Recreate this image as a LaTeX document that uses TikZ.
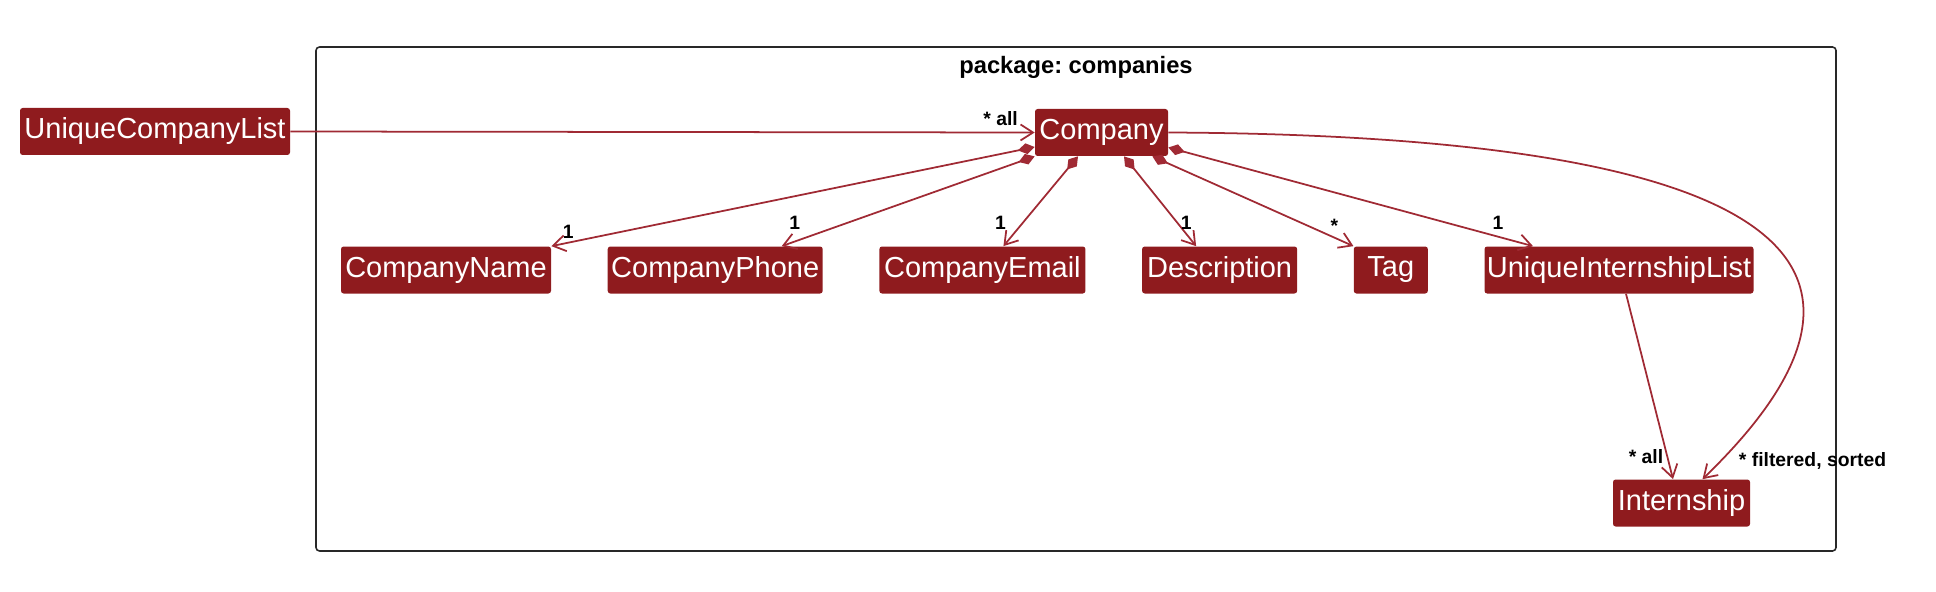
\documentclass[tikz,border=0pt]{standalone}
\usepackage{xcolor}
\usepackage{fontspec}
\setmainfont{Liberation Sans}
\usepackage{tikz}
\usetikzlibrary{arrows.meta, positioning}
\definecolor{clsred}{RGB}{143,27,30}
\definecolor{linkred}{RGB}{160,42,52}
\definecolor{framegray}{RGB}{40,40,40}
\frenchspacing
\tikzset{
  cls/.style={rectangle, fill=clsred, text=white, inner xsep=0pt,
    minimum height=0.94cm, rounded corners=1.5pt,
    font=\fontsize{16.5}{18}\selectfont},
  assoc/.style={-{Straight Barb[length=0.25cm, width=0.32cm]}, line width=1pt, color=linkred},
  compo/.style={{Diamond[length=0.34cm, width=0.22cm]}-{Straight Barb[length=0.25cm, width=0.32cm]},
    line width=1pt, color=linkred},
  lbl/.style={inner sep=0pt, text=black, font=\fontsize{11}{12}\selectfont\bfseries},
  pkgframe/.style={draw=framegray, line width=0.9pt, rounded corners=2pt}
}

\begin{document}
\begin{tikzpicture}[node distance=1.12cm]
  \useasboundingbox (0,0) rectangle (38.72,-11.84);
  % Package frame
  \draw[pkgframe] (6.32,-0.94) rectangle (36.72,-11.02);
  \node[font=\fontsize{13.5}{15}\selectfont\bfseries] (pkgtitle) at (21.52,-1.34) {package: companies};
  % Classes
  \node[cls, minimum width=5.4cm] (ucl) at (3.1,-2.63) {UniqueCompanyList};
  \node[cls, minimum width=2.66cm] (comp) at (22.03,-2.65) {Company};
  \node[cls, minimum width=4.2cm] (cname) at (8.92,-5.4) {CompanyName};
  \node[cls, minimum width=4.3cm, right=of cname] (cphone) {CompanyPhone};
  \node[cls, minimum width=4.12cm, right=of cphone] (cemail) {CompanyEmail};
  \node[cls, minimum width=3.1cm, right=of cemail] (desc) {Description};
  \node[cls, minimum width=1.48cm, right=of desc] (tag) {Tag};
  \node[cls, minimum width=5.38cm, right=of tag] (uil) {UniqueInternshipList};
  \node[cls, minimum width=2.74cm] (intern) at (33.63,-10.06) {Internship};
  % List to Company
  \draw[assoc] (ucl.east) -- (comp.west)
    node[lbl, pos=1, xshift=-0.68cm, yshift=0.28cm] {* all};
  % Company parts
  \draw[compo] ([yshift=-0.29cm]comp.west) -- (cname.north east)
    node[lbl, pos=1, xshift=0.34cm, yshift=0.28cm] {1};
  \draw[compo] (comp.south west) -- ([xshift=1.33cm]cphone.north)
    node[lbl, pos=1, xshift=0.26cm, yshift=0.46cm] {1};
  \draw[compo] ([xshift=-0.47cm]comp.south) -- ([xshift=0.42cm]cemail.north)
    node[lbl, pos=1, xshift=-0.06cm, yshift=0.46cm] {1};
  \draw[compo] ([xshift=0.45cm]comp.south) -- ([xshift=-0.47cm]desc.north)
    node[lbl, pos=1, xshift=-0.2cm, yshift=0.46cm] {1};
  \draw[compo] ([xshift=-0.32cm]comp.south east) -- (tag.north west)
    node[lbl, pos=1, xshift=-0.38cm, yshift=0.4cm] {*};
  \draw[compo] ([yshift=-0.3cm]comp.east) -- ([xshift=-1.72cm]uil.north)
    node[lbl, pos=1, xshift=-0.7cm, yshift=0.46cm] {1};
  % Internships
  \draw[assoc] ([xshift=0.14cm]uil.south) -- ([xshift=-0.17cm]intern.north)
    node[lbl, pos=1, xshift=-0.54cm, yshift=0.46cm] {* all};
  \draw[assoc] (comp.east) .. controls (34,-2.7) and (39.2,-4.6) .. ([xshift=0.42cm]intern.north)
    node[lbl, pos=1, xshift=2.2cm, yshift=0.36cm] {* filtered, sorted};
\end{tikzpicture}
\end{document}
